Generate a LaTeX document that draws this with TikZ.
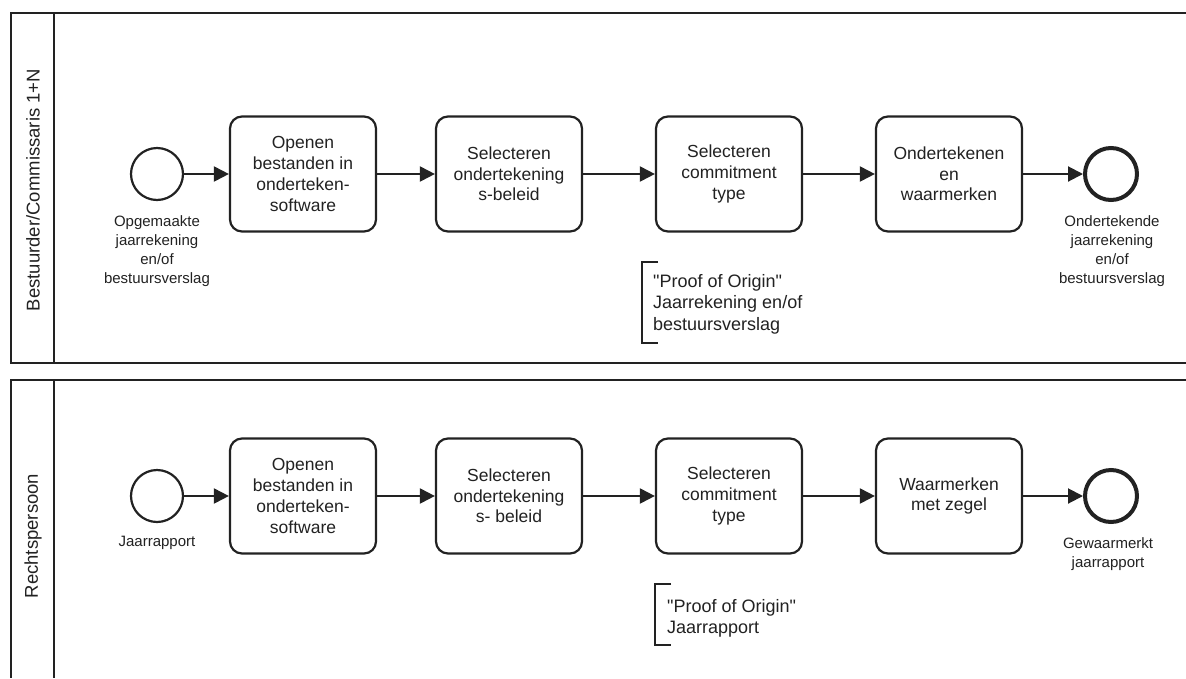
\documentclass[tikz,border=0pt]{standalone}
\usepackage{fontspec}
\setmainfont{Liberation Sans}
\newfontfamily\plainsans{Liberation Sans}
\usetikzlibrary{arrows.meta}
\definecolor{ink}{HTML}{222222}
\begin{document}
\begin{tikzpicture}[x=1pt,y=-1pt,
  task/.style={draw=ink, line width=2.2pt, rounded corners=12pt, minimum width=146pt, minimum height=115pt, align=center, inner sep=2pt, font=\fontsize{17.5}{20.7}\selectfont, text=ink},
  startev/.style={circle, draw=ink, line width=2.2pt, minimum size=52pt, inner sep=0pt},
  endev/.style={circle, draw=ink, line width=4pt, minimum size=52pt, inner sep=0pt},
  evlabel/.style={anchor=north, align=center, font=\fontsize{15}{19}\selectfont, text=ink, inner sep=0pt},
  flow/.style={draw=ink, line width=2pt, -{Triangle[length=15pt,width=15pt]}},
  pool/.style={draw=ink, line width=1.8pt},
  lanelabel/.style={rotate=90, font=\fontsize{18.5}{20}\selectfont, text=ink, inner sep=0pt},
  note/.style={anchor=north west, align=left, font=\plainsans\fontsize{18}{21.7}\selectfont, text=ink, inner sep=0pt},
  bracket/.style={draw=ink, line width=2.2pt}]
\useasboundingbox[fill=white] (0,0) rectangle (1186,678);

% pools
\draw[pool] (1186,13) -- (11,13) -- (11,363) -- (1186,363);
\draw[pool] (54,13) -- (54,363);
\draw[pool] (1186,380) -- (11,380) -- (11,678);
\draw[pool] (54,380) -- (54,678);
\node[lanelabel] (lane1) at (33,190) {Bestuurder/Commissaris 1+N};
\node[lanelabel] (lane2) at (33,536) {Rechtspersoon};

% top lane
\node[startev] (s1) at (157,174) {};
\node[task] (a1) at (303,174) {Openen\\bestanden in\\onderteken-\\software};
\node[task] (a2) at (509,174) {Selecteren\\ondertekening\\s-beleid};
\node[task] (a3) at (729,174) {Selecteren\\commitment\\type};
\node[task] (a4) at (949,174) {Ondertekenen\\en\\waarmerken};
\node[endev] (e1) at (1111,174) {};
\node[evlabel] (ls1) at (157,215) {Opgemaakte\\jaarrekening\\en/of\\bestuursverslag};
\node[evlabel] (le1) at (1112,215) {Ondertekende\\jaarrekening\\en/of\\bestuursverslag};
\draw[flow] (s1) -- (a1);
\draw[flow] (a1) -- (a2);
\draw[flow] (a2) -- (a3);
\draw[flow] (a3) -- (a4);
\draw[flow] (a4) -- (e1);
\draw[bracket] (658,262) -- (642,262) -- (642,343) -- (658,343);
\node[note] (n1) at (653,274) {"Proof of Origin"\\Jaarrekening en/of\\bestuursverslag};

% bottom lane
\node[startev] (s2) at (157,496) {};
\node[task] (b1) at (303,496) {Openen\\bestanden in\\onderteken-\\software};
\node[task] (b2) at (509,496) {Selecteren\\ondertekening\\s- beleid};
\node[task] (b3) at (729,496) {Selecteren\\commitment\\type};
\node[task] (b4) at (949,496) {Waarmerken\\met zegel};
\node[endev] (e2) at (1111,496) {};
\node[evlabel] (ls2) at (157,536) {Jaarrapport};
\node[evlabel] (le2) at (1108,537) {Gewaarmerkt\\jaarrapport};
\draw[flow] (s2) -- (b1);
\draw[flow] (b1) -- (b2);
\draw[flow] (b2) -- (b3);
\draw[flow] (b3) -- (b4);
\draw[flow] (b4) -- (e2);
\draw[bracket] (671,584) -- (655,584) -- (655,645) -- (671,645);
\node[note] (n2) at (667,599) {"Proof of Origin"\\Jaarrapport};
\end{tikzpicture}
\end{document}
